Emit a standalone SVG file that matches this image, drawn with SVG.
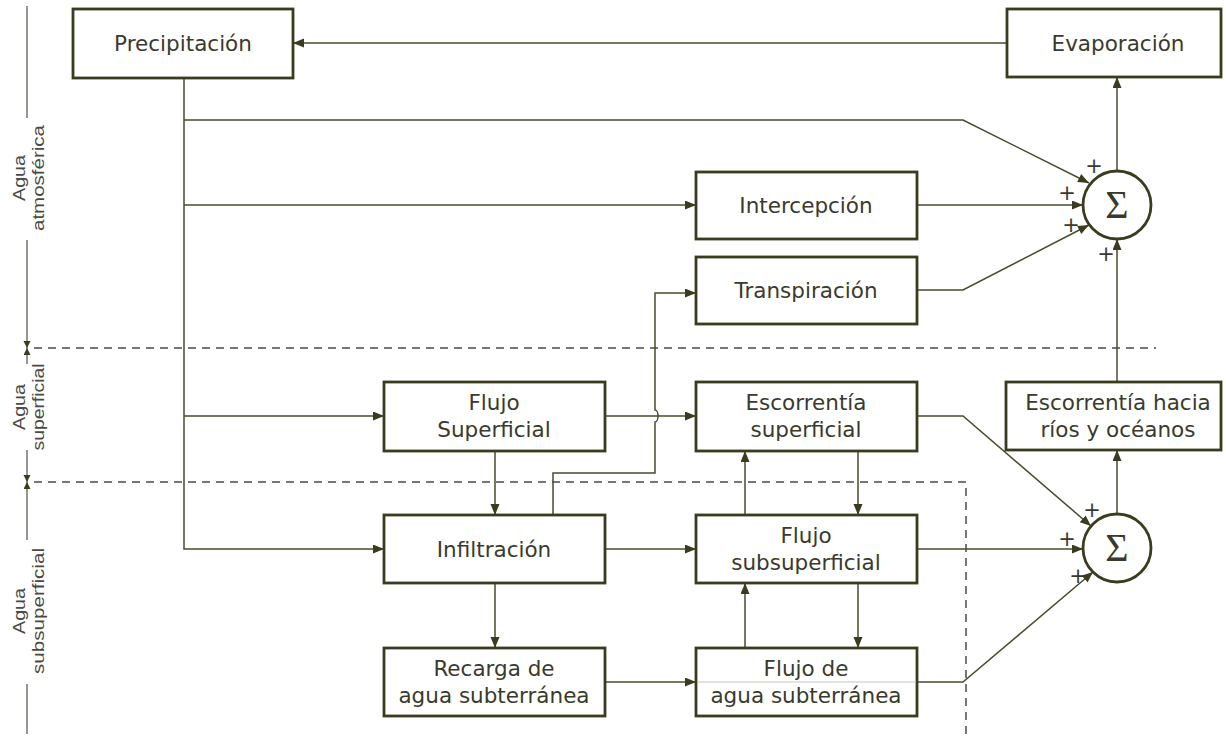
<svg xmlns="http://www.w3.org/2000/svg" width="1226" height="736" viewBox="0 0 1226 736">
<style>
.box{fill:#fff;stroke:#3b3b1f;stroke-width:2.8}
.t{font-family:"DejaVu Sans",Verdana,sans-serif;font-size:21.5px;fill:#3a3a2c;text-anchor:middle}
.c{fill:none;stroke:#4a4a2e;stroke-width:1.5}
.d{fill:none;stroke:#777;stroke-width:2;stroke-dasharray:8,6}
.s{fill:#fff;stroke:#3b3b1f;stroke-width:2.8}
.sig{font-family:"Liberation Serif","Times New Roman",serif;font-size:40px;fill:#3a3a2c;text-anchor:middle}
.p{font-family:"DejaVu Sans",sans-serif;font-size:21px;fill:#3a3a2c;text-anchor:middle}
.lab{font-family:"Liberation Sans",Arial,sans-serif;font-size:17px;fill:#4a4a44;text-anchor:middle}
.ax{fill:none;stroke:#6a6a60;stroke-width:1.4}
</style>
<defs>
<marker id="ar" markerUnits="userSpaceOnUse" markerWidth="12" markerHeight="10" refX="11" refY="4.5" orient="auto"><path d="M0,0 L11,4.5 L0,9 z" fill="#3b3b1f"/></marker>
<marker id="sm" markerUnits="userSpaceOnUse" markerWidth="8" markerHeight="8" refX="7" refY="3.5" orient="auto"><path d="M0,0 L7,3.5 L0,7 z" fill="#3b3b1f"/></marker>
</defs>

<g id="scale">
<path class="ax" d="M27,6 V118"/>
<path class="ax" d="M27,240 V348" marker-end="url(#sm)"/>
<path class="ax" d="M27,364 V348" marker-end="url(#sm)"/>
<path class="ax" d="M27,450 V482" marker-end="url(#sm)"/>
<path class="ax" d="M27,540 V482" marker-end="url(#sm)"/>
<path class="ax" d="M27,684 V734"/>
<text class="lab" transform="translate(31,178) rotate(-90)"><tspan x="0" y="-6" textLength="46" lengthAdjust="spacingAndGlyphs">Agua</tspan><tspan x="0" y="13" textLength="106" lengthAdjust="spacingAndGlyphs">atmosférica</tspan></text>
<text class="lab" transform="translate(31,407) rotate(-90)"><tspan x="0" y="-6" textLength="46" lengthAdjust="spacingAndGlyphs">Agua</tspan><tspan x="0" y="13" textLength="87" lengthAdjust="spacingAndGlyphs">superficial</tspan></text>
<text class="lab" transform="translate(31,611) rotate(-90)"><tspan x="0" y="-6" textLength="46" lengthAdjust="spacingAndGlyphs">Agua</tspan><tspan x="0" y="13" textLength="126" lengthAdjust="spacingAndGlyphs">subsuperficial</tspan></text>
</g>

<g id="zones">
<path class="d" d="M34,348 H1156"/>
<path class="d" d="M34,482 H966 V736"/>
</g>

<g id="connectors">
<path class="c" d="M1007,43 H293" marker-end="url(#ar)"/>
<path class="c" d="M184,78 V549 H384" marker-end="url(#ar)"/>
<path class="c" d="M184,120 H963 L1089,183" marker-end="url(#ar)"/>
<path class="c" d="M184,205 H696" marker-end="url(#ar)"/>
<path class="c" d="M917,205 H1083" marker-end="url(#ar)"/>
<path class="c" d="M917,290 H963 L1089,225" marker-end="url(#ar)"/>
<path class="c" d="M1117,382 V239" marker-end="url(#ar)"/>
<path class="c" d="M1117,171 V77" marker-end="url(#ar)"/>
<path class="c" d="M184,416 H384" marker-end="url(#ar)"/>
<path class="c" d="M605,416 H696" marker-end="url(#ar)"/>
<path class="c" d="M495,451 V515" marker-end="url(#ar)"/>
<path class="c" d="M553,515 V473 H655 V422 A3,6 0 0 0 655,410 V293 H696" marker-end="url(#ar)"/>
<path class="c" d="M605,549 H696" marker-end="url(#ar)"/>
<path class="c" d="M495,583 V648" marker-end="url(#ar)"/>
<path class="c" d="M605,682 H696" marker-end="url(#ar)"/>
<path class="c" d="M745,515 V451" marker-end="url(#ar)"/>
<path class="c" d="M858,451 V515" marker-end="url(#ar)"/>
<path class="c" d="M745,648 V583" marker-end="url(#ar)"/>
<path class="c" d="M858,583 V648" marker-end="url(#ar)"/>
<path class="c" d="M917,416 H963 L1091,526" marker-end="url(#ar)"/>
<path class="c" d="M917,549 H1083" marker-end="url(#ar)"/>
<path class="c" d="M917,682 H963 L1093,572" marker-end="url(#ar)"/>
<path class="c" d="M1117,514 V450" marker-end="url(#ar)"/>
</g>

<g id="precipitacion"><rect class="box" x="73" y="9" width="220" height="69"/><text class="t" x="183" y="51">Precipitación</text></g>
<g id="evaporacion"><rect class="box" x="1007" y="9" width="214" height="68"/><text class="t" x="1118" y="51">Evaporación</text></g>
<g id="intercepcion"><rect class="box" x="696" y="172" width="221" height="67"/><text class="t" x="806" y="213">Intercepción</text></g>
<g id="transpiracion"><rect class="box" x="696" y="257" width="221" height="67"/><text class="t" x="806" y="298">Transpiración</text></g>
<g id="flujo-superficial"><rect class="box" x="384" y="382" width="221" height="69"/><text class="t" x="494" y="410">Flujo</text><text class="t" x="494" y="437">Superficial</text></g>
<g id="escorrentia-superficial"><rect class="box" x="696" y="382" width="221" height="69"/><text class="t" x="806" y="410">Escorrentía</text><text class="t" x="806" y="437">superficial</text></g>
<g id="escorrentia-rios"><rect class="box" x="1006" y="382" width="215" height="68"/><text class="t" x="1118" y="410">Escorrentía hacia</text><text class="t" x="1118" y="437">ríos y océanos</text></g>
<g id="infiltracion"><rect class="box" x="384" y="515" width="221" height="68"/><text class="t" x="494" y="557">Infiltración</text></g>
<g id="flujo-subsuperficial"><rect class="box" x="696" y="515" width="221" height="68"/><text class="t" x="806" y="543">Flujo</text><text class="t" x="806" y="570">subsuperficial</text></g>
<g id="recarga"><rect class="box" x="384" y="648" width="221" height="68"/><text class="t" x="494" y="676">Recarga de</text><text class="t" x="494" y="703">agua subterránea</text></g>
<g id="flujo-subterranea"><rect class="box" x="696" y="648" width="221" height="68"/><path d="M697,682 H916" stroke="#c4c4bc" stroke-width="1"/><text class="t" x="806" y="676">Flujo de</text><text class="t" x="806" y="703">agua subterránea</text></g>

<g id="suma-1"><circle class="s" cx="1117" cy="205" r="34"/><text class="sig" x="1117" y="218">Σ</text>
<text class="p" x="1094" y="173">+</text><text class="p" x="1067" y="200">+</text><text class="p" x="1071" y="232">+</text><text class="p" x="1106" y="261">+</text></g>
<g id="suma-2"><circle class="s" cx="1117" cy="548" r="34"/><text class="sig" x="1117" y="561">Σ</text>
<text class="p" x="1092" y="517">+</text><text class="p" x="1067" y="546">+</text><text class="p" x="1078" y="583">+</text></g>
</svg>
